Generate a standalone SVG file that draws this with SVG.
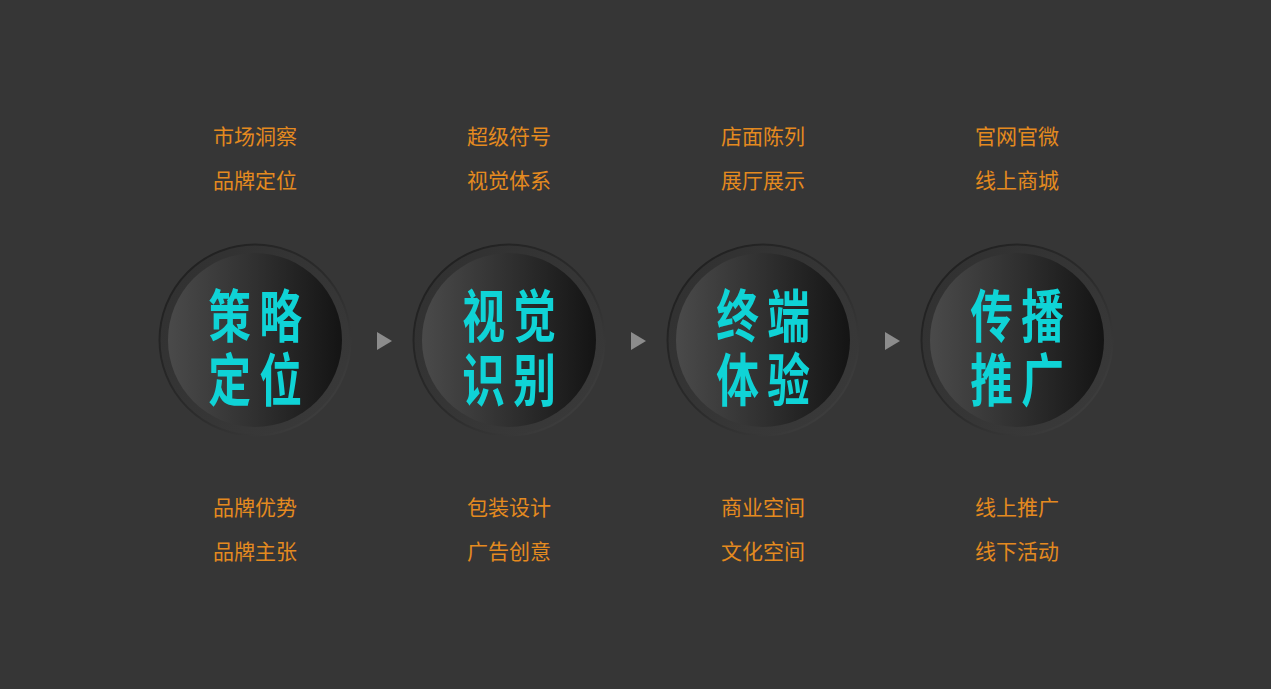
<svg xmlns="http://www.w3.org/2000/svg" width="1271" height="689" viewBox="0 0 1271 689">
<defs>
<linearGradient id="ring" x1="0" y1="0" x2="1" y2="1">
<stop offset="0" stop-color="#1e1e1e"/>
<stop offset="0.5" stop-color="#2a2a2a"/>
<stop offset="1" stop-color="#444444"/>
</linearGradient>
<linearGradient id="ringfill" x1="0" y1="0" x2="1" y2="1">
<stop offset="0" stop-color="#303030"/>
<stop offset="1" stop-color="#3a3a3a"/>
</linearGradient>
<linearGradient id="disk" x1="0" y1="0" x2="1" y2="0">
<stop offset="0" stop-color="#4a4a4a"/>
<stop offset="0.5" stop-color="#303030"/>
<stop offset="1" stop-color="#141414"/>
</linearGradient>
<g id="circ">
<circle r="95.5" fill="url(#ringfill)" stroke="url(#ring)" stroke-width="2"/>
<circle r="87" fill="url(#disk)"/>
</g>
</defs>
<style>
.sub{font-family:"Noto Sans CJK SC","Noto Sans",sans-serif;font-size:21px;fill:#e48a1f;text-anchor:middle}
.big{font-family:"Noto Sans CJK SC","Noto Sans",sans-serif;font-size:57px;font-weight:bold;fill:#0fd3d6;text-anchor:middle;letter-spacing:11px}
.arr{fill:#8c8c8c}
</style>
<rect width="1271" height="689" fill="#363636"/>
<g id="connectors">
<polygon class="arr" points="377,332 392,341 377,350"/>
<polygon class="arr" points="631,332 646,341 631,350"/>
<polygon class="arr" points="885,332 900,341 885,350"/>
</g>
<g id="node1">
<use href="#circ" x="255" y="340"/>
<g transform="translate(255,0) scale(0.75,1)">
<text class="big"><tspan x="5.5" y="337">策略</tspan><tspan x="5.5" y="401">定位</tspan></text>
</g>
<text class="sub" x="255" y="144">市场洞察</text>
<text class="sub" x="255" y="188">品牌定位</text>
<text class="sub" x="255" y="515">品牌优势</text>
<text class="sub" x="255" y="559">品牌主张</text>
</g>
<g id="node2">
<use href="#circ" x="509" y="340"/>
<g transform="translate(509,0) scale(0.75,1)">
<text class="big"><tspan x="5.5" y="337">视觉</tspan><tspan x="5.5" y="401">识别</tspan></text>
</g>
<text class="sub" x="509" y="144">超级符号</text>
<text class="sub" x="509" y="188">视觉体系</text>
<text class="sub" x="509" y="515">包装设计</text>
<text class="sub" x="509" y="559">广告创意</text>
</g>
<g id="node3">
<use href="#circ" x="763" y="340"/>
<g transform="translate(763,0) scale(0.75,1)">
<text class="big"><tspan x="5.5" y="337">终端</tspan><tspan x="5.5" y="401">体验</tspan></text>
</g>
<text class="sub" x="763" y="144">店面陈列</text>
<text class="sub" x="763" y="188">展厅展示</text>
<text class="sub" x="763" y="515">商业空间</text>
<text class="sub" x="763" y="559">文化空间</text>
</g>
<g id="node4">
<use href="#circ" x="1017" y="340"/>
<g transform="translate(1017,0) scale(0.75,1)">
<text class="big"><tspan x="5.5" y="337">传播</tspan><tspan x="5.5" y="401">推广</tspan></text>
</g>
<text class="sub" x="1017" y="144">官网官微</text>
<text class="sub" x="1017" y="188">线上商城</text>
<text class="sub" x="1017" y="515">线上推广</text>
<text class="sub" x="1017" y="559">线下活动</text>
</g>
</svg>
